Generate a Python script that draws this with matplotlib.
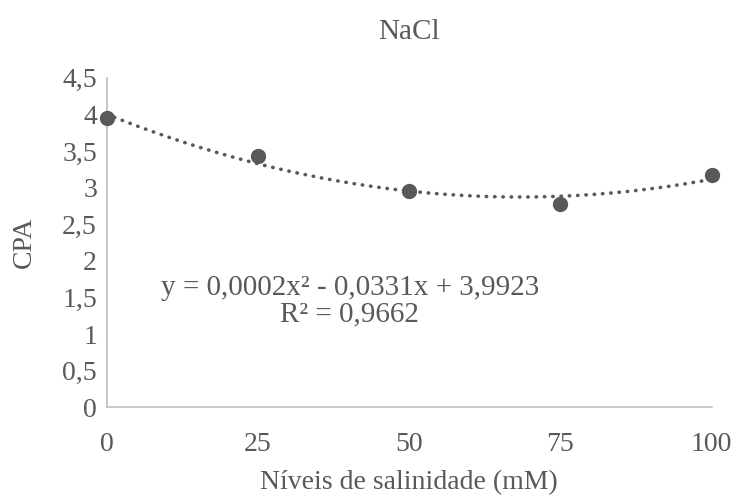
import matplotlib.pyplot as plt
import numpy as np

# data
salinity = [0, 25, 50, 75, 100]
cpa = [3.95, 3.43, 2.96, 2.77, 3.17]
y_ticks = [0, 0.5, 1, 1.5, 2, 2.5, 3, 3.5, 4, 4.5]
x_ticks = [0, 25, 50, 75, 100]
equation = "y = 0,0002x² - 0,0331x + 3,9923\nR² = 0,9662"

grey = "#595959"
plt.rcParams['font.family'] = ['Liberation Serif', 'DejaVu Serif']

fig = plt.figure(figsize=(7.36, 4.96), dpi=100)
ax = fig.add_axes([0.145, 0.179, 0.822, 0.664])

# quadratic trendline fitted to the points
coef = np.polyfit(salinity, cpa, 2)
xs = np.linspace(0, 100, 200)
ax.plot(xs, np.polyval(coef, xs), linestyle=(0, (0.1, 2.2)), dash_capstyle='round',
        color=grey, linewidth=2.6, zorder=2)
ax.plot(salinity, cpa, 'o', color=grey, markersize=10, zorder=3, clip_on=False)

ax.set_xlim(0, 100)
ax.set_ylim(0, 4.5)
ax.set_xticks(x_ticks)
ax.set_yticks(y_ticks)
ax.set_yticklabels([f"{t:g}".replace('.', ',') for t in y_ticks])
ax.tick_params(length=0, labelsize=20, labelcolor=grey)
ax.tick_params(axis='x', pad=18)
ax.tick_params(axis='y', pad=7)

for side in ['top', 'right']:
    ax.spines[side].set_visible(False)
for side in ['left', 'bottom']:
    ax.spines[side].set_color('#BFBFBF')
    ax.spines[side].set_linewidth(1.2)

ax.set_xlabel("Níveis de salinidade (mM)", fontsize=20, color=grey, labelpad=9)
ax.set_ylabel("CPA", fontsize=20, color=grey, labelpad=18)
ax.set_title("NaCl", fontsize=21, color=grey, pad=28)

ax.text(40.2, 1.45, equation, ha='center', va='center', fontsize=21, color=grey,
        linespacing=1.05)

fig.savefig("out.png", dpi=100)
